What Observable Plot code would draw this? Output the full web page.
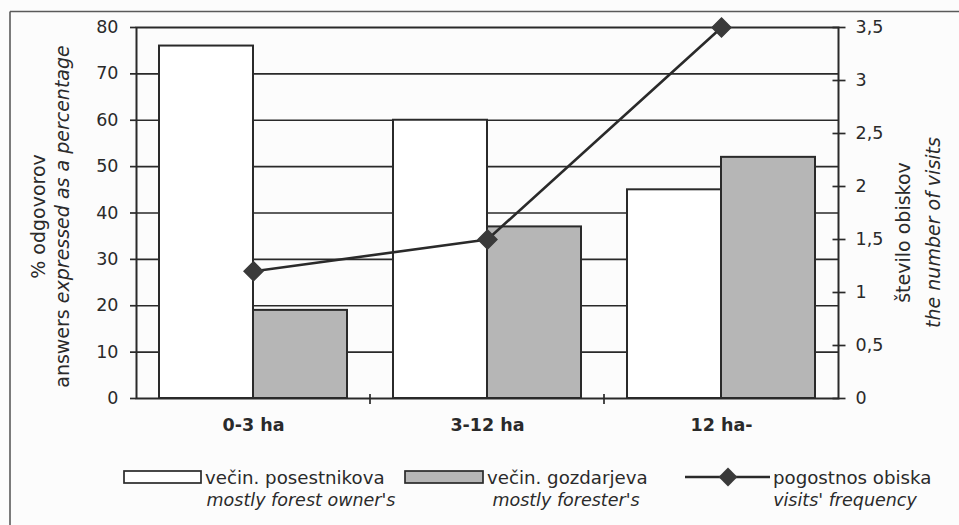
<!DOCTYPE html>
<html>
<head>
<meta charset="utf-8">
<script src="https://cdn.jsdelivr.net/npm/d3@7"></script>
<script src="https://cdn.jsdelivr.net/npm/@observablehq/plot@0.6"></script>
<style>
  html, body { margin: 0; padding: 0; background: #fcfcfc; overflow: hidden; }
  svg { display: block; }
</style>
</head>
<body>
<div id="chart"></div>
<script>
// ---- data ----
const categories = ["0-3 ha", "3-12 ha", "12 ha-"];
const ownerShare = [76, 60, 45];          // večin. posestnikova (%)
const foresterShare = [19, 37, 52];       // večin. gozdarjeva (%)
const visitFrequency = [1.2, 1.5, 3.5];   // pogostnos obiska (number of visits)
const leftTicks = [0, 10, 20, 30, 40, 50, 60, 70, 80];
const rightTicks = [0, 0.5, 1, 1.5, 2, 2.5, 3, 3.5];
const leftTitle = [[["% odgovorov", false]], [["answers ", false], ["expressed as a percentage", true]]];
const rightTitle = [[["število obiskov", false]], [["the number of visits", true]]];
const legendMain = ["večin. posestnikova", "večin. gozdarjeva", "pogostnos obiska"];
const legendSub = ["mostly forest owner's", "mostly forester's", "visits' frequency"];

// ---- helpers ----
const LEFT_MAX = 80, RIGHT_MAX = 3.5;
const toLeft = v => v * LEFT_MAX / RIGHT_MAX;
const fmtComma = v => String(v).replace(".", ",");
const rows = categories.map((c, i) => ({cat: c, owner: ownerShare[i], forester: foresterShare[i], visits: visitFrequency[i]}));

const FONT = "'DejaVu Sans', 'Liberation Sans', Arial, sans-serif";
const INK = "#2a2a2a";
const GREY = "#b6b6b6";

const plot = Plot.plot({
  width: 959,
  height: 525,
  marginLeft: 136,
  marginRight: 121,
  marginTop: 27,
  marginBottom: 127,
  style: {fontFamily: FONT, fontSize: "17.5px", color: INK, background: "transparent", overflow: "visible"},
  x: {domain: categories, padding: 0, axis: null},
  y: {domain: [0, LEFT_MAX], axis: null},
  marks: [
    Plot.ruleY(leftTicks.filter(t => t > 0 && t < LEFT_MAX), {stroke: INK, strokeWidth: 1.7}),
    Plot.barY(rows, {x: "cat", y: "owner", fill: "#ffffff", stroke: INK, strokeWidth: 2, insetLeft: 23, insetRight: 117}),
    Plot.barY(rows, {x: "cat", y: "forester", fill: GREY, stroke: INK, strokeWidth: 2, insetLeft: 117, insetRight: 23}),
    Plot.frame({stroke: INK, strokeWidth: 2}),
    Plot.axisY(leftTicks, {anchor: "left", tickSize: 6, tickPadding: 12, label: null, fontSize: 17.5, strokeWidth: 1.7}),
    Plot.axisY(rightTicks.map(toLeft), {anchor: "right", tickSize: 13, dx: -6.5, tickFormat: () => "", label: null, strokeWidth: 1.7}),
    Plot.axisY(rightTicks.map(toLeft), {anchor: "right", tickSize: 0, tickPadding: 17, label: null, fontSize: 17.5,
      tickFormat: d => fmtComma(+(d * RIGHT_MAX / LEFT_MAX).toFixed(1))}),
    Plot.text(categories, {x: d => d, frameAnchor: "bottom", dy: 32, fontWeight: "bold", fontSize: 17.5, fill: INK}),
    Plot.line(rows, {x: "cat", y: d => toLeft(d.visits), stroke: INK, strokeWidth: 2.6}),
    Plot.dot(rows, {x: "cat", y: d => toLeft(d.visits), symbol: "diamond2", r: 8.5, fill: "#3a3a3a", stroke: "#3a3a3a"})
  ]
});

document.getElementById("chart").appendChild(plot);

// ---- decorations built from the plot's own scales ----
const svg = d3.select(plot);
const xS = plot.scale("x"), yS = plot.scale("y");
const y0 = yS.apply(0), yTop = yS.apply(LEFT_MAX);
const xL = xS.range[0], xR = xS.range[1];
const yMid = (y0 + yTop) / 2;

// outer frame (top + left edge)
svg.insert("g", ":first-child").attr("stroke", "#5a5a5a").attr("stroke-width", 1.6).call(g => {
  g.append("line").attr("x1", 10).attr("x2", 959).attr("y1", 11.5).attr("y2", 11.5);
  g.append("line").attr("x1", 10).attr("x2", 10).attr("y1", 11.5).attr("y2", 525);
});

// category boundary ticks
svg.append("g").attr("stroke", INK).attr("stroke-width", 1.7)
  .selectAll("line").data(categories.slice(1)).join("line")
  .attr("x1", d => xS.apply(d)).attr("x2", d => xS.apply(d))
  .attr("y1", y0 - 4).attr("y2", y0 + 6);

// axis titles
function vTitle(x, y, parts) {
  const t = svg.append("text")
    .attr("transform", `translate(${x},${y}) rotate(-90)`)
    .attr("text-anchor", "middle").attr("dominant-baseline", "central")
    .attr("font-family", FONT).attr("font-size", 19).attr("fill", INK);
  parts.forEach(([s, it]) => t.append("tspan").text(s).attr("font-style", it ? "italic" : null));
}
vTitle(xL - 98, yMid + 4, leftTitle[0]);
vTitle(xL - 74, yMid + 4, leftTitle[1]);
vTitle(xR + 65, yMid + 20, rightTitle[0]);
vTitle(xR + 95, yMid + 20, rightTitle[1]);

// legend
const lg = svg.append("g").attr("font-family", FONT).attr("fill", INK);
const rowY = 477, subY = 500;
lg.append("rect").attr("x", 124).attr("y", rowY - 6).attr("width", 77).attr("height", 12)
  .attr("fill", "#ffffff").attr("stroke", INK).attr("stroke-width", 1.7);
lg.append("rect").attr("x", 405).attr("y", rowY - 6).attr("width", 78).attr("height", 12)
  .attr("fill", GREY).attr("stroke", INK).attr("stroke-width", 1.7);
lg.append("line").attr("x1", 685).attr("x2", 770).attr("y1", rowY).attr("y2", rowY)
  .attr("stroke", INK).attr("stroke-width", 2.6);
lg.append("path").attr("d", d3.symbol(d3.symbolDiamond2, Math.PI * 8.5 * 8.5)())
  .attr("transform", `translate(728,${rowY})`).attr("fill", "#3a3a3a");
const textX = [205, 487, 773];
const subCx = [301, 566, 845];
legendMain.forEach((s, i) => lg.append("text").attr("x", textX[i]).attr("y", rowY)
  .attr("font-size", 18.2).attr("text-anchor", "start").attr("dominant-baseline", "central").text(s));
legendSub.forEach((s, i) => lg.append("text").attr("x", subCx[i]).attr("y", subY)
  .attr("font-size", 17.5).attr("text-anchor", "middle").attr("dominant-baseline", "central").attr("font-style", "italic").text(s));
</script>
</body>
</html>
